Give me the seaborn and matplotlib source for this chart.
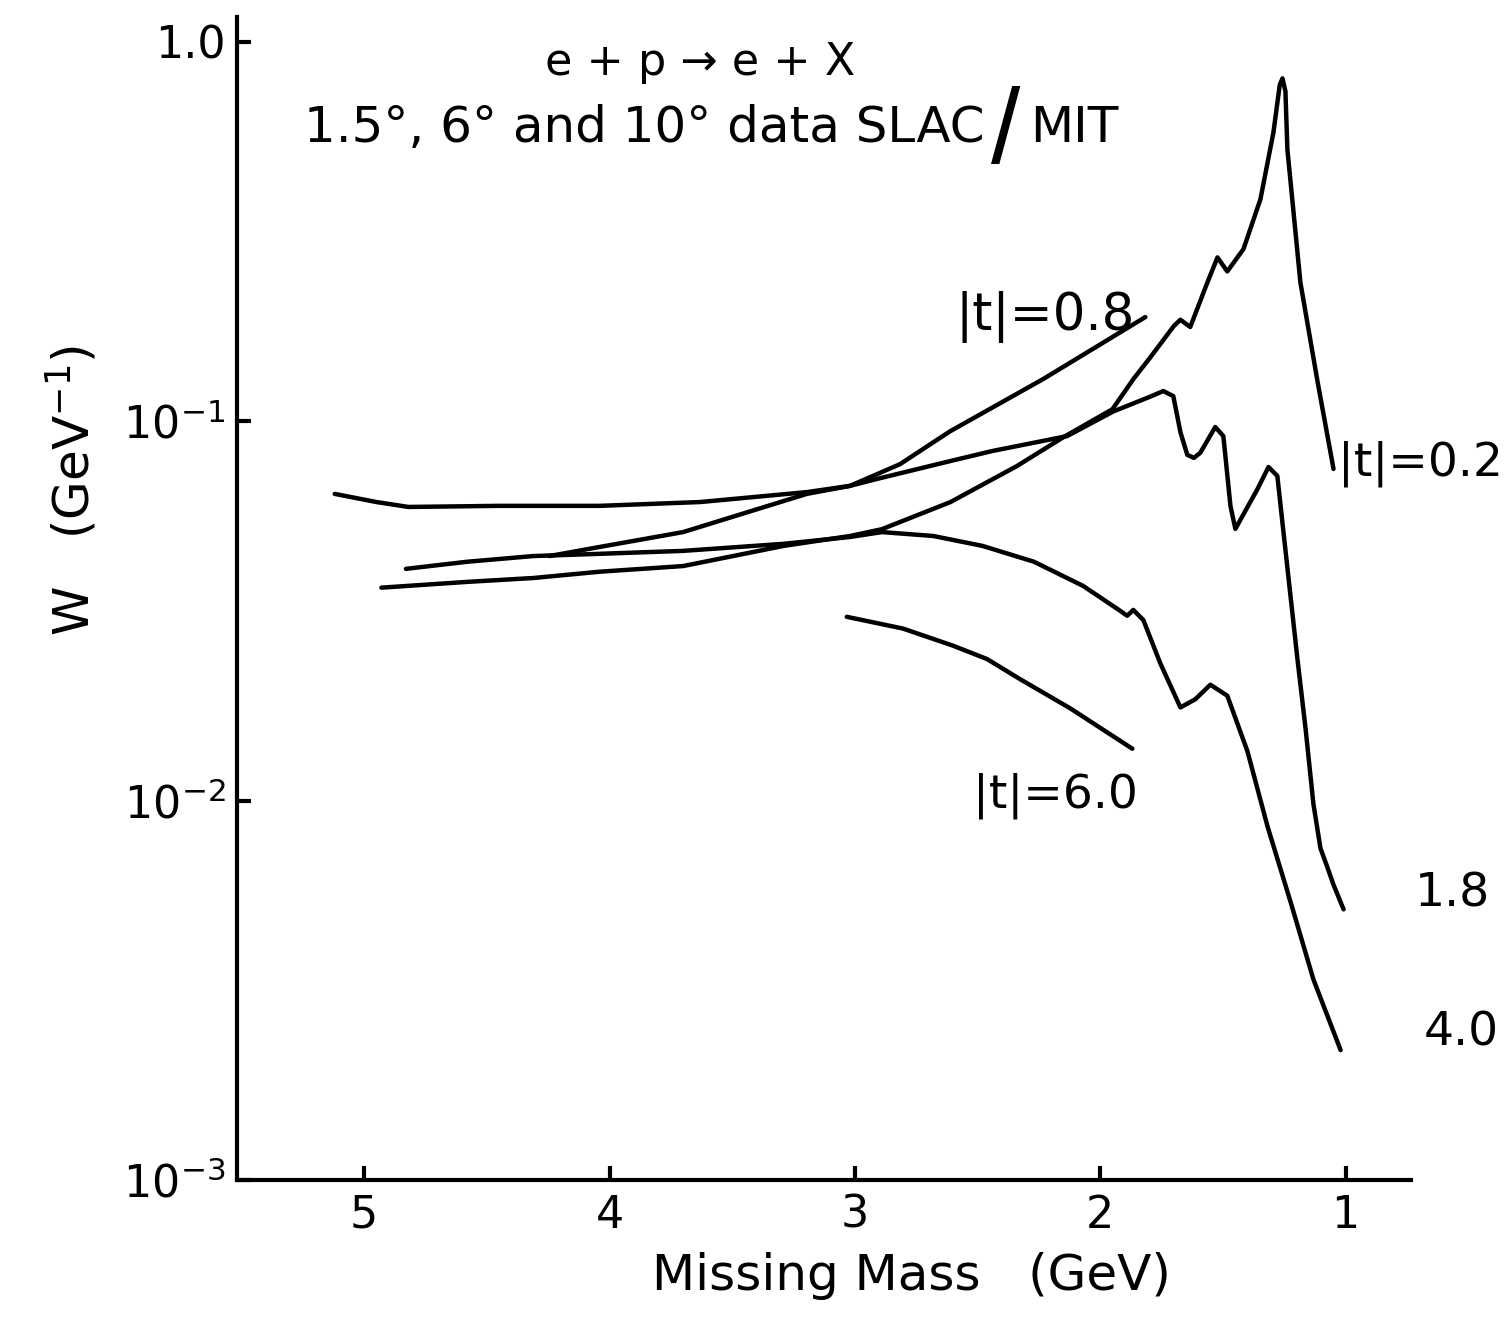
# W(nu,t) for e+p -> e+X vs missing mass, SLAC/MIT data curves
import numpy as np
import pandas as pd
import seaborn as sns
import matplotlib.pyplot as plt
from matplotlib.ticker import FixedLocator, FixedFormatter, NullLocator

# curve values (missing mass in GeV, W in GeV^-1)
mm_t02 = [4.93, 4.58, 4.31, 4.04, 3.70, 3.29, 3.02, 2.89, 2.61, 2.34, 2.15, 1.95, 1.865, 1.80,
          1.70, 1.673, 1.633, 1.563, 1.522, 1.482, 1.416, 1.347, 1.294, 1.268, 1.257, 1.245,
          1.237, 1.184, 1.114, 1.049]
w_t02 = [0.0364, 0.0377, 0.0386, 0.0401, 0.0415, 0.0469, 0.0498, 0.0519, 0.0612, 0.0761, 0.0907,
         0.1075, 0.129, 0.146, 0.178, 0.185, 0.177, 0.232, 0.270, 0.248, 0.284, 0.384, 0.576,
         0.77, 0.80, 0.74, 0.52, 0.232, 0.127, 0.0748]

mm_t08 = [4.245, 4.04, 3.70, 3.196, 3.02, 2.816, 2.612, 2.233, 1.816]
w_t08 = [0.0441, 0.0466, 0.051, 0.0643, 0.0675, 0.077, 0.094, 0.129, 0.188]

mm_t18 = [5.12, 4.95, 4.82, 4.45, 4.04, 3.63, 3.196, 3.02, 2.91, 2.61, 2.44, 2.135, 1.947,
          1.796, 1.743, 1.702, 1.673, 1.645, 1.618, 1.592, 1.531, 1.498, 1.469, 1.449, 1.359,
          1.314, 1.278, 1.253, 1.196, 1.163, 1.131, 1.102, 1.075, 1.049, 1.008]
w_t18 = [0.0643, 0.0612, 0.0594, 0.0598, 0.0598, 0.0612, 0.065, 0.0675, 0.0704, 0.0785, 0.0834,
         0.0913, 0.106, 0.116, 0.120, 0.1164, 0.0935, 0.0815, 0.0800, 0.0825, 0.0965, 0.0913,
         0.0597, 0.052, 0.0662, 0.0757, 0.0717, 0.051, 0.0236, 0.0155, 0.0098, 0.00748, 0.0067,
         0.0060, 0.00517]

mm_t40 = [4.83, 4.58, 4.31, 4.04, 3.70, 3.29, 3.02, 2.89, 2.68, 2.48, 2.27, 2.07, 1.93, 1.89,
          1.865, 1.824, 1.755, 1.673, 1.612, 1.551, 1.482, 1.40, 1.318, 1.22, 1.131, 1.020]
w_t40 = [0.0408, 0.0426, 0.0441, 0.0447, 0.0455, 0.0475, 0.0495, 0.051, 0.0498, 0.0469, 0.0426,
         0.0368, 0.032, 0.0307, 0.0318, 0.0299, 0.023, 0.0176, 0.0185, 0.0202, 0.0189, 0.0135,
         0.00855, 0.0053, 0.00338, 0.0022]

mm_t60 = [3.033, 2.804, 2.600, 2.461, 2.327, 2.122, 1.869]
w_t60 = [0.0305, 0.0284, 0.0256, 0.0236, 0.0209, 0.0175, 0.0137]

curves = [(mm_t02, w_t02), (mm_t08, w_t08), (mm_t18, w_t18), (mm_t40, w_t40), (mm_t60, w_t60)]

y_ticks = [1e-3, 1e-2, 1e-1, 1.0]
y_ticklabels = ["10$^{-3}$", "10$^{-2}$", "10$^{-1}$", "1.0"]
x_ticks = [5, 4, 3, 2, 1]

sns.set_style("ticks")
plt.rcParams['font.family'] = ['DejaVu Sans']
plt.rcParams['mathtext.fontset'] = 'dejavusans'
for k in ["text.color", "axes.labelcolor", "xtick.color", "ytick.color"]:
    plt.rcParams[k] = "black"

W, H = 1507, 1320
fig = plt.figure(figsize=(W / 100, H / 100), dpi=100)
ax = fig.add_axes([0.157, 0.106, 0.779, 0.881])

for mm, w in curves:
    df = pd.DataFrame({"mm": mm, "w": w})
    sns.lineplot(data=df, x="mm", y="w", color="black", linewidth=3.2, sort=False,
                 estimator=None, ax=ax, solid_joinstyle="round", solid_capstyle="round")

ax.set_yscale("log")
ax.set_xlim(5.52, 0.735)
ax.set_ylim(1e-3, 1.16)

ax.yaxis.set_major_locator(FixedLocator(y_ticks))
ax.yaxis.set_major_formatter(FixedFormatter(y_ticklabels))
ax.yaxis.set_minor_locator(NullLocator())
ax.set_xticks(x_ticks)
ax.set_xticklabels([str(t) for t in x_ticks])

ax.tick_params(axis="both", direction="in", length=10, width=3, labelsize=32)
ax.tick_params(axis="y", pad=8)
ax.tick_params(axis="x", pad=10)
sns.despine(ax=ax)
for s in ["left", "bottom"]:
    ax.spines[s].set_linewidth(3)
    ax.spines[s].set_color("black")

ax.set_xlabel("Missing Mass   (GeV)", fontsize=36)
ax.xaxis.set_label_coords(0.575, -0.062)
ax.set_ylabel("W   (GeV$^{-1}$)", fontsize=36)
ax.yaxis.set_label_coords(-0.117, 0.593)

# header text (figure pixel positions from the top-left)
fig.text(700 / W, 1 - 62 / H, "e + p → e + X", fontsize=32, ha="center", va="center")
fig.text(985 / W, 1 - 128 / H, "1.5°, 6° and 10° data SLAC", fontsize=36,
         ha="right", va="center")
fig.text(1006 / W, 1 - 136 / H, "/", fontsize=76, ha="center", va="center",
         family="Liberation Sans")
fig.text(1030 / W, 1 - 128 / H, "MIT", fontsize=36, ha="left", va="center")

# curve labels
ax.text(2.224, 0.188, "|t|=0.8", fontsize=37, ha="center", va="center")
ax.text(1.03, 0.077, "|t|=0.2", fontsize=34, ha="left", va="center")
ax.text(0.563, 0.00569, "1.8", fontsize=34, ha="center", va="center", clip_on=False)
ax.text(0.53, 0.00244, "4.0", fontsize=34, ha="center", va="center", clip_on=False)
ax.text(2.184, 0.0103, "|t|=6.0", fontsize=34, ha="center", va="center")

fig.savefig("out.png", dpi=100)
